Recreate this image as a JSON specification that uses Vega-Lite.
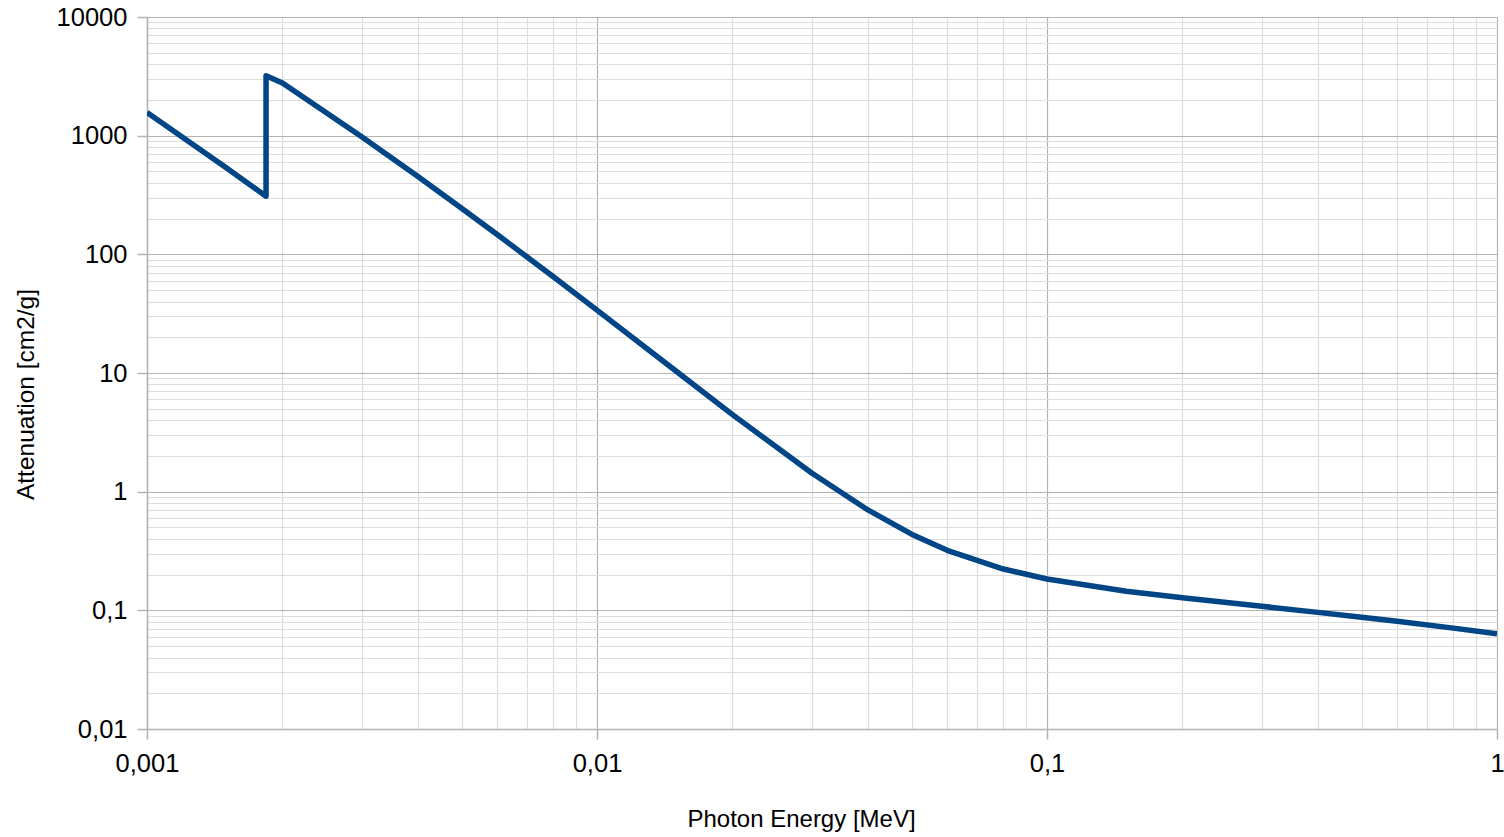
{
  "$schema": "https://vega.github.io/schema/vega-lite/v6.json",
  "width": 1350,
  "height": 712,
  "autosize": {"type": "none"},
  "padding": {"left": 147, "top": 17, "right": 7, "bottom": 108},
  "background": "white",
  "config": {
    "view": {"stroke": null},
    "font": "Liberation Sans",
    "axis": {
      "labelFont": "Liberation Sans",
      "titleFont": "Liberation Sans",
      "labelFontSize": 25.5,
      "titleFontSize": 24.5,
      "labelColor": "#000000",
      "titleColor": "#000000",
      "titleFontWeight": "normal",
      "domainColor": "#b3b3b3",
      "domainWidth": 1.5,
      "tickSize": 10,
      "tickWidth": 1.5,
      "gridWidth": 1.2
    }
  },
  "data": {
    "values": [
      {"i": 0, "energy": 0.001, "mu": 1570},
      {"i": 1, "energy": 0.0015, "mu": 535.5},
      {"i": 2, "energy": 0.0018389, "mu": 309.2},
      {"i": 3, "energy": 0.0018389, "mu": 3192},
      {"i": 4, "energy": 0.002, "mu": 2777},
      {"i": 5, "energy": 0.003, "mu": 978.4},
      {"i": 6, "energy": 0.004, "mu": 452.9},
      {"i": 7, "energy": 0.005, "mu": 245.0},
      {"i": 8, "energy": 0.006, "mu": 147.0},
      {"i": 9, "energy": 0.008, "mu": 64.68},
      {"i": 10, "energy": 0.01, "mu": 33.89},
      {"i": 11, "energy": 0.015, "mu": 10.34},
      {"i": 12, "energy": 0.02, "mu": 4.464},
      {"i": 13, "energy": 0.03, "mu": 1.436},
      {"i": 14, "energy": 0.04, "mu": 0.7012},
      {"i": 15, "energy": 0.05, "mu": 0.4385},
      {"i": 16, "energy": 0.06, "mu": 0.3207},
      {"i": 17, "energy": 0.08, "mu": 0.2228},
      {"i": 18, "energy": 0.1, "mu": 0.1835},
      {"i": 19, "energy": 0.15, "mu": 0.1448},
      {"i": 20, "energy": 0.2, "mu": 0.1275},
      {"i": 21, "energy": 0.3, "mu": 0.1082},
      {"i": 22, "energy": 0.4, "mu": 0.09614},
      {"i": 23, "energy": 0.5, "mu": 0.08748},
      {"i": 24, "energy": 0.6, "mu": 0.08077},
      {"i": 25, "energy": 0.8, "mu": 0.07082},
      {"i": 26, "energy": 1.0, "mu": 0.06361}
    ]
  },
  "mark": {
    "type": "line",
    "color": "#004586",
    "strokeWidth": 5.5,
    "strokeJoin": "round",
    "clip": true
  },
  "encoding": {
    "x": {
      "field": "energy",
      "type": "quantitative",
      "scale": {"type": "log", "domain": [0.001, 1], "nice": false},
      "axis": {
        "title": "Photon Energy [MeV]",
        "titleFontSize": 24,
        "titleBaseline": "alphabetic",
        "titleX": 654,
        "titleY": 97,
        "labelPadding": 12,
        "values": [0.001, 0.002, 0.003, 0.004, 0.005, 0.006, 0.007, 0.008, 0.009,
                   0.01, 0.02, 0.03, 0.04, 0.05, 0.06, 0.07, 0.08, 0.09,
                   0.1, 0.2, 0.3, 0.4, 0.5, 0.6, 0.7, 0.8, 0.9, 1],
        "labelExpr": "abs(log(datum.value)/LN10 - round(log(datum.value)/LN10)) < 1e-6 ? replace(toString(datum.value), '.', ',') : ''",
        "labelOverlap": false,
        "labelFlush": false,
        "gridColor": {
          "condition": {"test": "abs(log(datum.value)/LN10 - round(log(datum.value)/LN10)) < 1e-6", "value": "#b3b3b3"},
          "value": "#dddddd"
        },
        "tickColor": {
          "condition": {"test": "abs(log(datum.value)/LN10 - round(log(datum.value)/LN10)) < 1e-6", "value": "#b3b3b3"},
          "value": "transparent"
        }
      }
    },
    "y": {
      "field": "mu",
      "type": "quantitative",
      "scale": {"type": "log", "domain": [0.01, 10000], "nice": false},
      "axis": {
        "title": "Attenuation [cm2/g]",
        "titleBaseline": "alphabetic",
        "titleX": -114,
        "titleY": 377,
        "labelPadding": 10,
        "values": [0.01, 0.02, 0.03, 0.04, 0.05, 0.06, 0.07, 0.08, 0.09,
                   0.1, 0.2, 0.3, 0.4, 0.5, 0.6, 0.7, 0.8, 0.9,
                   1, 2, 3, 4, 5, 6, 7, 8, 9,
                   10, 20, 30, 40, 50, 60, 70, 80, 90,
                   100, 200, 300, 400, 500, 600, 700, 800, 900,
                   1000, 2000, 3000, 4000, 5000, 6000, 7000, 8000, 9000, 10000],
        "labelExpr": "abs(log(datum.value)/LN10 - round(log(datum.value)/LN10)) < 1e-6 ? replace(toString(datum.value), '.', ',') : ''",
        "labelOverlap": false,
        "labelFlush": false,
        "gridColor": {
          "condition": {"test": "abs(log(datum.value)/LN10 - round(log(datum.value)/LN10)) < 1e-6", "value": "#b3b3b3"},
          "value": "#dddddd"
        },
        "tickColor": {
          "condition": {"test": "abs(log(datum.value)/LN10 - round(log(datum.value)/LN10)) < 1e-6", "value": "#b3b3b3"},
          "value": "transparent"
        }
      }
    },
    "order": {"field": "i", "type": "quantitative"}
  }
}
